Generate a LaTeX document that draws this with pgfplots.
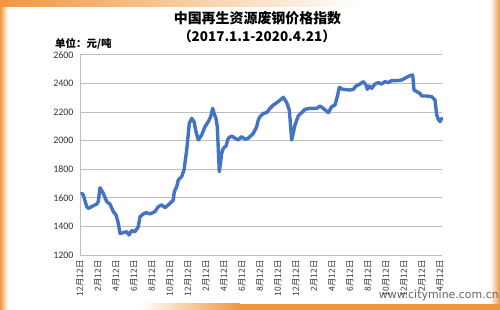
\documentclass[border=0pt]{standalone}
\usepackage{fontspec}
\setmainfont{Carlito}
\newfontfamily\cjk{Noto Sans CJK SC}
\newfontfamily\wmfont{DejaVu Sans}
\usepackage{pgfplots}
\pgfplotsset{compat=1.18}
\definecolor{lineblue}{RGB}{68,114,196}
\definecolor{frameorange}{RGB}{240,150,60}
\definecolor{gridgray}{RGB}{190,190,190}
\begin{document}
\begin{tikzpicture}
\fill[white] (0bp,0bp) rectangle (500bp,310bp);
\useasboundingbox (0bp,0bp) rectangle (500bp,310bp);
% frame
\shade[left color=frameorange, right color=white] (0bp,0bp) rectangle (8bp,310bp);
\shade[left color=frameorange, right color=white] (0bp,303bp) rectangle (360bp,310bp);
\shade[left color=white, right color=frameorange] (490bp,0bp) rectangle (500bp,310bp);
\shade[left color=white, right color=frameorange] (140bp,0bp) rectangle (240bp,6bp);
\fill[frameorange] (240bp,0bp) rectangle (500bp,6bp);
% titles
\node[font=\cjk\bfseries\fontsize{14}{16}\selectfont] at (257.5bp,292bp) {中国再生资源废钢价格指数};
\node[font=\cjk\bfseries\fontsize{13.5}{16}\selectfont] at (257bp,274bp) {（2017.1.1-2020.4.21）};
\node[font=\cjk\bfseries\fontsize{10.5}{12}\selectfont, anchor=west, inner sep=0pt] at (55bp,266bp) {单位：元/吨};
\begin{axis}[
  at={(80bp,55bp)}, anchor=south west,
  scale only axis, width=361.7bp, height=200.3bp,
  xmin=0, xmax=361.7, ymin=1200, ymax=2600,
  axis x line*=bottom, axis y line*=left,
  axis line style={gridgray, line width=0.8pt},
  every outer x axis line/.append style={-}, every outer y axis line/.append style={-},
  ymajorgrids, grid style={gridgray, line width=0.8pt},
  major tick length=0pt,
  ytick={1200,1400,...,2600},
  yticklabel style={font=\fontsize{10}{12}\selectfont, text=black!80, xshift=-3bp},
  /pgf/number format/assume math mode=true,
  /pgf/number format/1000 sep={},
  xtick={0,18,...,360},
  xticklabels={12月12日,2月12日,4月12日,6月12日,8月12日,10月12日,12月12日,2月12日,4月12日,6月12日,8月12日,10月12日,12月12日,2月12日,4月12日,6月12日,8月12日,10月12日,12月12日,2月12日,4月12日},
  xticklabel style={font=\cjk\fontsize{8.5}{10}\selectfont, text=black!80, rotate=90, anchor=east, xshift=-2bp},
  clip=false,
]
\addplot[lineblue, line width=3.4bp, line join=round, line cap=round] coordinates {
(1.7,1631) (3.3,1620) (6.7,1538) (8.3,1526) (11.7,1538) (16.7,1556) (18.3,1573) (20,1670) (23.3,1631) (26.7,1573) (30,1556) (33.3,1503) (36,1480) (38.3,1421) (40,1351) (43.3,1356) (46.7,1363) (49,1340) (51.7,1370) (55,1363) (58.3,1398) (60,1468) (63.3,1487) (66,1496) (70,1487) (75,1503) (78.3,1538) (81.7,1550) (85,1531) (90,1561) (93.3,1584) (94.3,1643) (96.7,1678) (98.3,1724) (101.7,1748) (104,1794) (106.7,1934) (109.3,2120) (111.7,2155) (114,2132) (116,2062) (118.3,2004) (121.7,2039) (125,2097) (128.3,2132) (130.7,2167) (132.7,2225) (134,2190) (136,2155) (137.3,2097) (139.3,1782) (141.7,1910) (143.3,1946) (146,1962) (148.3,2016) (151.7,2032) (155,2016) (158.3,2004) (161.7,2027) (165,2009) (168.3,2016) (173.3,2050) (176.7,2097) (178.3,2144) (180,2167)
(183.3,2190) (186.7,2195) (190,2225) (193.3,2248) (198.3,2272) (203.3,2302) (206.7,2265) (209.3,2214) (211.7,2004) (215,2109) (218.3,2172) (221.7,2195) (225,2218) (230,2225) (236.7,2225) (240,2241) (243.3,2225) (248.3,2195) (251.7,2237) (255,2248) (257.3,2307) (259.3,2372) (262.7,2358) (270,2353) (273.3,2358) (276,2381) (280,2395) (283.3,2412) (286,2388) (287.3,2358) (289.3,2381) (291.7,2365) (295,2395) (298.3,2405) (301.7,2395) (305,2412) (308.3,2405) (311.7,2419) (316.7,2419) (321.7,2423) (326.7,2442) (330,2454) (332.7,2458) (334,2353) (336.7,2342) (340,2330) (341.7,2311) (346.7,2311) (351.7,2307) (355,2283) (356.7,2179) (358.3,2148) (360,2132) (361.7,2155)
};
\end{axis}
\node[font=\wmfont\fontsize{11}{12}\selectfont, text=black!60, anchor=east, inner sep=0pt] at (499bp,15bp) {www.citymine.com.cn};
\end{tikzpicture}
\end{document}
